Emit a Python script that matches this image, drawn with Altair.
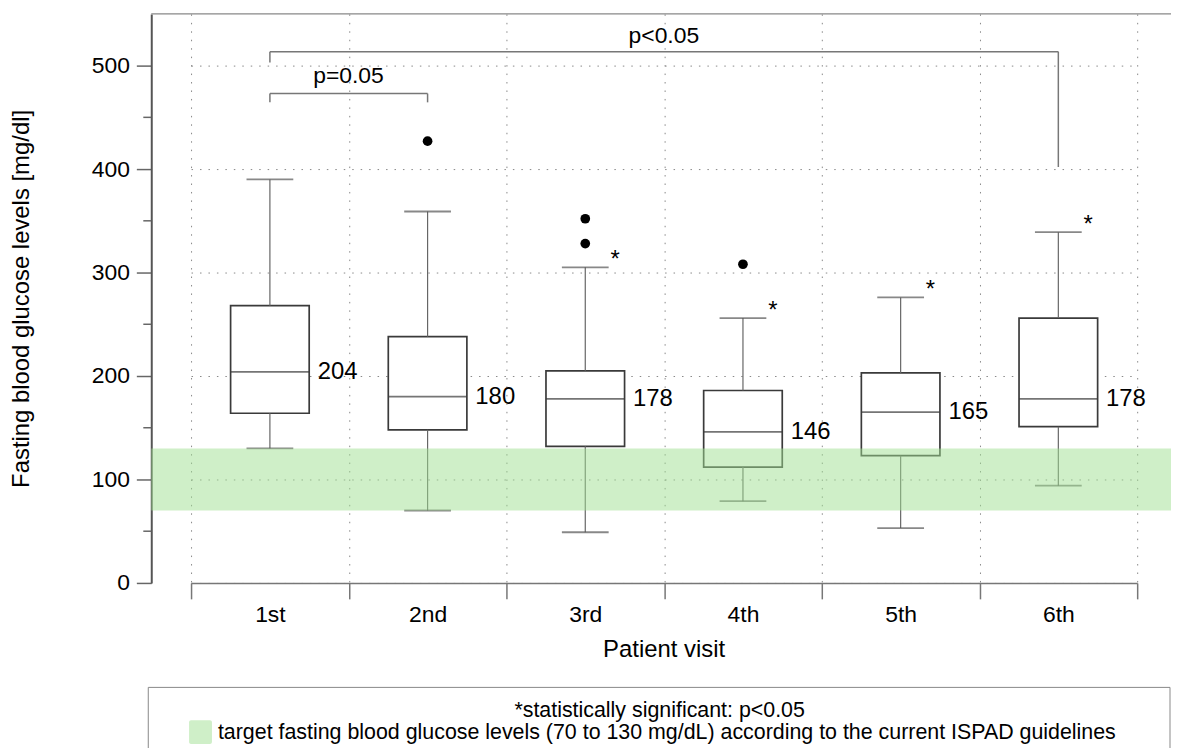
import altair as alt
import pandas as pd

# ---------------- data ----------------
visits = ["1st", "2nd", "3rd", "4th", "5th", "6th"]
whisker_low = [130, 70, 49, 79, 53, 94]
q1 = [164, 148, 132, 112, 123, 151]
median = [204, 180, 178, 146, 165, 178]
q3 = [268, 238, 205, 186, 203, 256]
whisker_high = [390, 359, 305, 256, 276, 339]
significant = [False, False, True, True, True, True]

outlier_visit = ["2nd", "3rd", "3rd", "4th"]
outlier_value = [427, 352, 328, 308]

target_low = [70]
target_high = [130]

minor_ticks = [50, 150, 250, 350, 450]
major_ticks = [0, 100, 200, 300, 400, 500]

# significance brackets
bar_from = ["1st", "1st"]
bar_to = ["2nd", "6th"]
bar_level = [473, 513.5]
leg_visit = ["1st", "2nd", "1st", "6th"]
leg_bottom = [464.5, 464.5, 503, 402]
leg_top = [473, 473, 513.5, 513.5]
p_labels = ["p=0.05", "p<0.05"]
p_visit = ["1st", "3rd"]
p_level = [490, 529]

legend_line1 = "*statistically significant: p<0.05"
legend_line2 = "target fasting blood glucose levels (70 to 130 mg/dL) according to the current ISPAD guidelines"

# ---------------- layout ----------------
W, H = 1025, 572
FONT = "Liberation Sans"
BAND_FILL = "#9fdf91"

box_df = pd.DataFrame({
    "visit": visits, "low": whisker_low, "q1": q1, "median": median,
    "q3": q3, "high": whisker_high, "sig": significant,
})
box_df["mlabel"] = box_df["median"].astype(str)
sig_df = box_df[box_df["sig"]].copy()
sig_df["star"] = "*"
out_df = pd.DataFrame({"visit": outlier_visit, "value": outlier_value})
band_df = pd.DataFrame({"lo": target_low, "hi": target_high})
minor_df = pd.DataFrame({"v": minor_ticks})
hbar_df = pd.DataFrame({"a": bar_from, "b": bar_to, "y": bar_level})
leg_df = pd.DataFrame({"visit": leg_visit, "y": leg_bottom, "y2": leg_top})
p_df = pd.DataFrame({"visit": p_visit, "y": p_level, "label": p_labels})

x_scale = alt.Scale(domain=visits, range=[40, 991], paddingInner=0, paddingOuter=0)
y_scale = alt.Scale(domain=[0, 550], nice=False, zero=False)

x_axis = alt.Axis(
    title="Patient visit", tickBand="extent", labelAngle=0,
    labelFontSize=23, labelColor="black", labelPadding=5,
    tickSize=16, tickColor="#777", tickWidth=1.5,
    domainColor="#777", domainWidth=1.5,
    grid=True, gridDash=[1.5, 7], gridColor="#888", gridWidth=1,
    titleFontSize=24, titleFontWeight="normal", titleColor="black",
    titleX=515, titleY=67, titleBaseline="middle", titleAlign="center",
)
y_axis = alt.Axis(
    title="Fasting blood glucose levels [mg/dl]", values=major_ticks,
    labelFontSize=23, labelColor="black", labelPadding=7,
    tickSize=15, tickColor="#666", tickWidth=1.5,
    domainColor="#555", domainWidth=2,
    grid=True, gridDash=[1.5, 7], gridColor="#888", gridWidth=1,
    titleFontSize=24, titleFontWeight="normal", titleColor="black",
    titleX=-130, titleY=H / 2, titleAngle=-90, titleBaseline="middle", titleAlign="center",
)


def X(field):
    return alt.X(f"{field}:N", scale=x_scale, axis=x_axis)


def Y(field):
    return alt.Y(f"{field}:Q", scale=y_scale, axis=y_axis)


boxes = alt.Chart(box_df).mark_bar(size=79, fill="white", stroke="#3a3a3a", strokeWidth=1.7).encode(
    x=X("visit"), y=Y("q1"), y2="q3:Q",
)
medians = alt.Chart(box_df).mark_tick(size=79, thickness=1.8, color="#3a3a3a").encode(
    x=X("visit"), y=Y("median")
)
whisk_lo = alt.Chart(box_df).mark_rule(color="#666", strokeWidth=1.2).encode(
    x=X("visit"), y=Y("low"), y2="q1:Q"
)
whisk_hi = alt.Chart(box_df).mark_rule(color="#666", strokeWidth=1.2).encode(
    x=X("visit"), y=Y("q3"), y2="high:Q"
)
cap_lo = alt.Chart(box_df).mark_tick(size=47, thickness=1.8, color="#555").encode(
    x=X("visit"), y=Y("low")
)
cap_hi = alt.Chart(box_df).mark_tick(size=47, thickness=1.8, color="#555").encode(
    x=X("visit"), y=Y("high")
)
outliers = alt.Chart(out_df).mark_circle(size=95, color="black", opacity=1).encode(
    x=X("visit"), y=Y("value")
)
stars = alt.Chart(sig_df).mark_text(
    font=FONT, fontSize=24, color="black", dx=30, dy=0, baseline="alphabetic", align="center"
).encode(x=X("visit"), y=Y("high"), text="star:N")
mlabels = alt.Chart(box_df).mark_text(
    font=FONT, fontSize=24, color="black", dx=48, align="left", baseline="middle"
).encode(x=X("visit"), y=Y("median"), text="mlabel:N")

band = alt.Chart(band_df).mark_rect(fill=BAND_FILL, opacity=0.5).encode(
    y=Y("lo"), y2="hi:Q"
)

hbars = alt.Chart(hbar_df).mark_rule(color="#777", strokeWidth=1.5).encode(
    x=X("a"), x2="b:N", y=Y("y")
)
legs = alt.Chart(leg_df).mark_rule(color="#777", strokeWidth=1.5).encode(
    x=X("visit"), y=Y("y"), y2="y2:Q"
)
ptext = alt.Chart(p_df).mark_text(
    font=FONT, fontSize=23, color="black", dx=79, baseline="middle", align="center"
).encode(x=X("visit"), y=Y("y"), text="label:N")

top_line = alt.Chart(band_df).mark_rule(color="#888", strokeWidth=1.5).encode(
    x=alt.value(0), x2=alt.value(W), y=alt.value(0)
)
minor = alt.Chart(minor_df).mark_rule(color="#666", strokeWidth=1.5).encode(
    y=Y("v"), x=alt.value(-8), x2=alt.value(0)
)

# legend box under the chart
legend_box = alt.Chart(band_df).mark_rect(fill="white", stroke="#888", strokeWidth=1).encode(
    x=alt.value(-3), x2=alt.value(1024), y=alt.value(677), y2=alt.value(800)
)
legend_swatch = alt.Chart(band_df).mark_rect(fill="#cfefc8", cornerRadius=2).encode(
    x=alt.value(38), x2=alt.value(61), y=alt.value(710), y2=alt.value(734)
)
legend_t1 = alt.Chart(band_df).mark_text(
    font=FONT, fontSize=21.5, color="black", align="center", baseline="middle"
).encode(x=alt.value(511), y=alt.value(701), text=alt.value(legend_line1))
legend_t2 = alt.Chart(band_df).mark_text(
    font=FONT, fontSize=21.5, color="black", align="left", baseline="middle"
).encode(x=alt.value(67), y=alt.value(723), text=alt.value(legend_line2))

chart = alt.layer(
    boxes, whisk_lo, whisk_hi, medians, cap_lo, cap_hi, outliers, stars, mlabels,
    band, hbars, legs, ptext, top_line, minor,
    legend_box, legend_swatch, legend_t1, legend_t2,
).properties(
    width=W, height=H,
    autosize=alt.AutoSizeParams(type="none"),
    padding={"left": 144, "top": 4, "right": 0, "bottom": 164},
).configure(
    font=FONT,
).configure_view(
    stroke=None,
)

chart.save("out.html", embed_options={"renderer": "svg", "actions": False})
